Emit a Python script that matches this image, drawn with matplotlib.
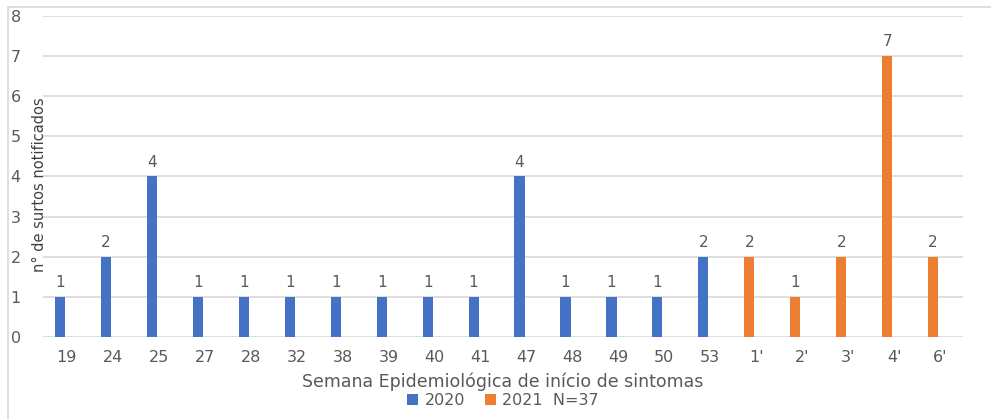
import matplotlib.pyplot as plt

weeks = ['19', '24', '25', '27', '28', '32', '38', '39', '40', '41',
         '47', '48', '49', '50', '53', "1'", "2'", "3'", "4'", "6'"]
surtos_2020 = [1, 2, 4, 1, 1, 1, 1, 1, 1, 1, 4, 1, 1, 1, 2]
surtos_2021 = [2, 1, 2, 7, 2]

blue = '#4472C4'
orange = '#ED7D31'
grey = '#595959'

fig = plt.figure(figsize=(9.91, 4.19), dpi=100)
ax = fig.add_axes([43 / 991, 82 / 419, 920 / 991, 321 / 419])

x2020 = list(range(len(surtos_2020)))
x2021 = list(range(len(surtos_2020), len(weeks)))

b1 = ax.bar(x2020, surtos_2020, width=0.22, color=blue, label='2020', zorder=3)
b2 = ax.bar(x2021, surtos_2021, width=0.22, color=orange, label='2021  N=37', zorder=3)

for bars in (b1, b2):
    for rect in bars:
        h = rect.get_height()
        ax.annotate(str(int(h)), (rect.get_x() + rect.get_width() / 2, h),
                    xytext=(0, 5), textcoords='offset points',
                    ha='center', va='bottom', fontsize=11, color=grey)

ax.set_xlim(-0.37, len(weeks) - 0.35)
ax.set_ylim(0, 8)
ax.set_yticks(range(9))
ax.set_xticks([i + 0.15 for i in range(len(weeks))])
ax.set_xticklabels(weeks)
ax.tick_params(axis='both', length=0, labelsize=11.5, colors=grey)
ax.tick_params(axis='x', pad=9)
ax.tick_params(axis='y', pad=16)
ax.grid(axis='y', color='#D9D9D9', linewidth=1.2, zorder=0)
for s in ax.spines.values():
    s.set_visible(False)

ax.set_xlabel('Semana Epidemiológica de início de sintomas', fontsize=12.5,
              color=grey, labelpad=6)
fig.text(40 / 991, 1 - 185 / 419, 'n° de surtos notificados',
         rotation=90, ha='center', va='center', fontsize=10.5, color='#404040')

ax.legend(loc='upper center', bbox_to_anchor=(0.5, -0.13), ncol=2, frameon=False,
          fontsize=11.5, labelcolor=grey, handlelength=0.7, handleheight=0.7,
          handletextpad=0.4, columnspacing=1.2)

# light border around the chart (left and top)
fig.add_artist(plt.Line2D([8 / 991, 8 / 991], [0, 1 - 7 / 419], color='#D9D9D9',
                          transform=fig.transFigure, linewidth=1.2))
fig.add_artist(plt.Line2D([8 / 991, 1], [1 - 7 / 419, 1 - 7 / 419], color='#D9D9D9',
                          transform=fig.transFigure, linewidth=1.2))

fig.savefig('out.png', dpi=100)
